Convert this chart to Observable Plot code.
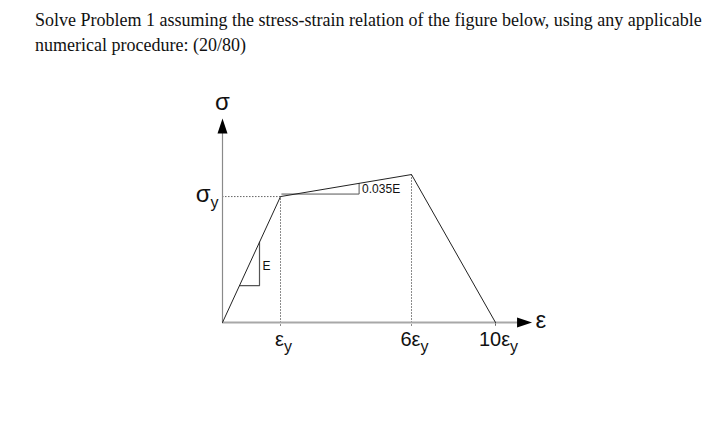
<!DOCTYPE html>
<html><head><meta charset="utf-8">
<script src="https://cdn.jsdelivr.net/npm/d3@7"></script>
<script src="https://cdn.jsdelivr.net/npm/@observablehq/plot@0.6"></script>
<style>
body{margin:0;background:#fff;}
#title{font-family:"Liberation Serif","Times New Roman",serif;font-size:18px;line-height:25px;color:#111;padding:8px 0 0 35px;height:60px;box-sizing:border-box;white-space:nowrap;}
#chart svg{display:block;}
</style></head><body>
<div id="title">Solve Problem 1 assuming the stress-strain relation of the figure below, using any applicable<br>numerical procedure: (20/80)</div>
<div id="chart"></div>
<script>
// strain in units of εy, stress in units of σy
const strain = [0, 1, 6, 10];
const stress = [0, 1, 1.175, 0];
const tickStrains = [1, 6, 10];
const tickLabels = ["ε_y", "6ε_y", "10ε_y"];
const eTriangleX = [0.293, 0.638, 0.638];
const eTriangleY = [0.293, 0.293, 0.638];
const hTriangleX = [1.05, 4.0, 4.0];
const hTriangleY = [1.02, 1.02, 1.105];
const slopeLabels = ["E", "0.035E"];
const slopeLabelX = [0.638, 4.0];
const slopeLabelY = [0.444, 1.06];
const axisEndX = 11.5;
const axisEndY = 1.62;

const curve = strain.map((s, i) => ({s, v: stress[i]}));
const triE = eTriangleX.map((s, i) => ({s, v: eTriangleY[i]}));
const triH = hTriangleX.map((s, i) => ({s, v: hTriangleY[i]}));
const ticks = tickStrains.map((s, i) => ({s, label: tickLabels[i], top: stress[strain.indexOf(s)]}));
const slopes = slopeLabels.map((t, i) => ({t, s: slopeLabelX[i], v: slopeLabelY[i]}));

const arrowUp = {draw(ctx, size) {
  const k = Math.sqrt(size / Math.PI) / 8;
  ctx.moveTo(0, -7.5 * k); ctx.lineTo(5 * k, 7.5 * k); ctx.lineTo(-5 * k, 7.5 * k); ctx.closePath();
}};

const font = "'Liberation Sans', Arial, sans-serif";

const chart = Plot.plot({
  width: 728,
  height: 362,
  style: {fontFamily: font, background: "#fff"},
  x: {type: "linear", domain: [0, 1, 6, 10, axisEndX], range: [222, 280, 411, 495, 531], axis: null},
  y: {domain: [0, axisEndY], range: [262, 58], axis: null},
  marks: [
    // dotted guides
    Plot.ruleY([1], {x1: 0, x2: 1, stroke: "#666", strokeWidth: 1, strokeDasharray: "1.5,1.5"}),
    Plot.ruleX(ticks.filter(d => d.top > 0), {x: "s", y1: -0.03, y2: "top", stroke: "#666", strokeWidth: 1, strokeDasharray: "1.5,1.5"}),
    Plot.ruleX(ticks.filter(d => d.top === 0), {x: "s", y1: -0.03, y2: 0, stroke: "#666", strokeWidth: 1}),
    // axes
    Plot.ruleY([0], {x1: 0, x2: axisEndX - 0.3, stroke: "#a8a8a8", strokeWidth: 2}),
    Plot.ruleX([0], {y1: 0, y2: axisEndY - 0.06, stroke: "#8a8a8a", strokeWidth: 1.2}),
    Plot.dot([{s: 0, v: axisEndY - 0.06}], {x: "s", y: "v", symbol: arrowUp, r: 8, fill: "#000", stroke: null}),
    Plot.dot([{s: axisEndX - 0.29, v: 0}], {x: "s", y: "v", symbol: arrowUp, r: 8, fill: "#000", stroke: null, rotate: 90}),
    // slope triangles
    Plot.line(triE, {x: "s", y: "v", stroke: "#555", strokeWidth: 1.2}),
    Plot.line(triH, {x: "s", y: "v", stroke: "#555", strokeWidth: 1}),
    // stress-strain curve
    Plot.line(curve, {x: "s", y: "v", stroke: "#222", strokeWidth: 1}),
    // labels
    Plot.text(slopes, {x: "s", y: "v", text: "t", textAnchor: "start", dx: 3, fontSize: 12, fill: "#111"}),
    Plot.text(ticks, {x: "s", y: 0, text: "label", dy: 17, dx: 3, fontSize: 20, fill: "#111"}),
    Plot.text(["σ_y"], {x: 0, y: 1, text: d => d, textAnchor: "end", dx: -4, dy: -2.7, fontSize: 24, fill: "#111"}),
    Plot.text(["σ"], {x: 0, y: axisEndY, text: d => d, dy: -15.7, fontSize: 24, fill: "#111"}),
    Plot.text(["ε"], {x: axisEndX, y: 0, text: d => d, textAnchor: "start", dx: 4, dy: -1.7, fontSize: 24, fill: "#111"})
  ]
});

// turn "_" into subscripts
d3.select(chart).selectAll("text").each(function() {
  const t = this.textContent;
  if (t.includes("_")) {
    const [main, sub] = t.split("_");
    const sel = d3.select(this);
    const fs = parseFloat(sel.attr("font-size") || getComputedStyle(this.parentNode).fontSize) || 20;
    sel.text(null);
    sel.append("tspan").text(main);
    sel.append("tspan").attr("font-size", Math.round(fs * 0.78)).attr("dy", Math.round(fs * 0.28)).text(sub);
  }
});

document.getElementById("chart").append(chart);
</script>
</body></html>
